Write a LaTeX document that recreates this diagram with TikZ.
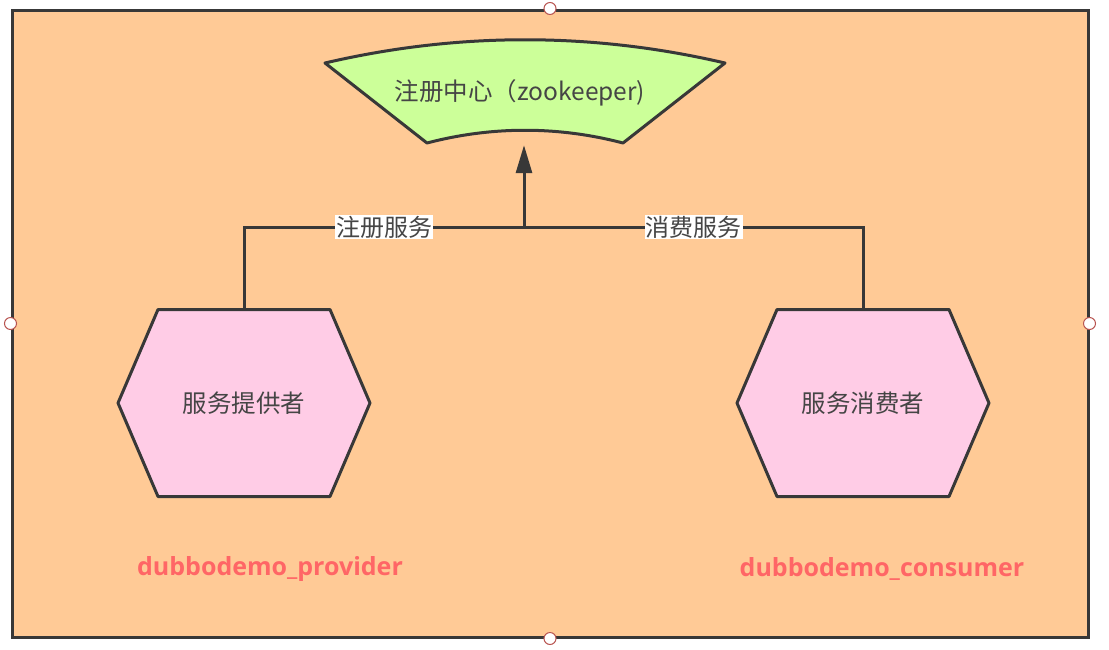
\documentclass[tikz,border=0pt]{standalone}
\usepackage{fontspec}
\setmainfont{Noto Sans CJK SC}
\newfontfamily\namefont{Open Sans}
\usetikzlibrary{arrows.meta,calc}
\definecolor{peach}{HTML}{FFCA96}
\definecolor{lime}{HTML}{CCFF99}
\definecolor{rose}{HTML}{FFCCE6}
\definecolor{ink}{HTML}{383838}
\definecolor{txt}{HTML}{454545}
\definecolor{coral}{HTML}{FF6666}
\definecolor{handlered}{HTML}{B85450}
\tikzset{
    frame/.style =    {rectangle,
                      fill=peach,
                      draw=ink,
                      line width=3pt,
                      minimum width=1076pt,
                      minimum height=627pt},
    handle/.style =   {circle,
                      fill=white,
                      draw=handlered,
                      line width=1pt,
                      inner sep=0pt,
                      minimum size=12pt},
    regshape/.style = {fill=lime,
                      draw=ink,
                      line width=3pt,
                      line join=round},
    regnode/.style =  {rectangle,
                      text=txt,
                      inner sep=0pt,
                      minimum width=400pt,
                      minimum height=104pt,
                      font=\fontsize{24.5}{24.5}\selectfont},
    hexa/.style =     {fill=rose,
                      draw=ink,
                      line width=3pt,
                      line join=round},
    hexnode/.style =  {rectangle,
                      text=txt,
                      inner sep=0pt,
                      minimum width=252pt,
                      minimum height=187pt,
                      font=\fontsize{24.5}{24.5}\selectfont},
    link/.style =     {draw=ink,
                      line width=3pt},
    tag/.style =      {fill=white,
                      text=txt,
                      inner sep=1pt,
                      font=\fontsize{24}{24}\selectfont},
    devname/.style =  {text=coral,
                      font=\namefont\bfseries\fontsize{25}{25}\selectfont},
    >={Triangle[length=28pt,width=16pt]}}

\begin{document}
\begin{tikzpicture}[x=1pt,y=-1pt]
    \useasboundingbox (0,0) rectangle (1109,649);
    \node[frame]  (box)  at (550,323.5)  {};
    \node[handle] (h1)   at (box.north)  {};
    \node[handle] (h2)   at (box.south)  {};
    \node[handle] (h3)   at (box.west)   {};
    \node[handle] (h4)   at (box.east)   {};

    % registry
    \path[regshape] (325,63) .. controls (458,32) and (592,32) .. (725,63)
                    -- (623,143) .. controls (558,126) and (492,126) .. (427,143) -- cycle;
    \node[regnode] (reg) at (520,93) {注册中心（zookeeper)};

    % provider and consumer
    \foreach \cx/\nm/\txt in {244/prov/服务提供者, 863/cons/服务消费者}{
        \path[hexa] (\cx-126,403) -- (\cx-86,309.5) -- (\cx+86,309.5) -- (\cx+126,403)
                    -- (\cx+86,496.5) -- (\cx-86,496.5) -- cycle;
        \node[hexnode] (\nm) at (\cx,403) {\txt};
    }

    \coordinate (junc) at (524,227);
    \draw[link] (prov.north) |- (junc) node[tag,pos=0.75] {注册服务};
    \draw[link] (junc) -| (cons.north) node[tag,pos=0.25] {消费服务};
    \draw[link,->] (junc) -- (junc |- reg.south);

    \node[devname] (provname) at (270,569) {dubbodemo\_provider};
    \node[devname] (consname) at (882,569) {dubbodemo\_consumer};
\end{tikzpicture}
\end{document}
